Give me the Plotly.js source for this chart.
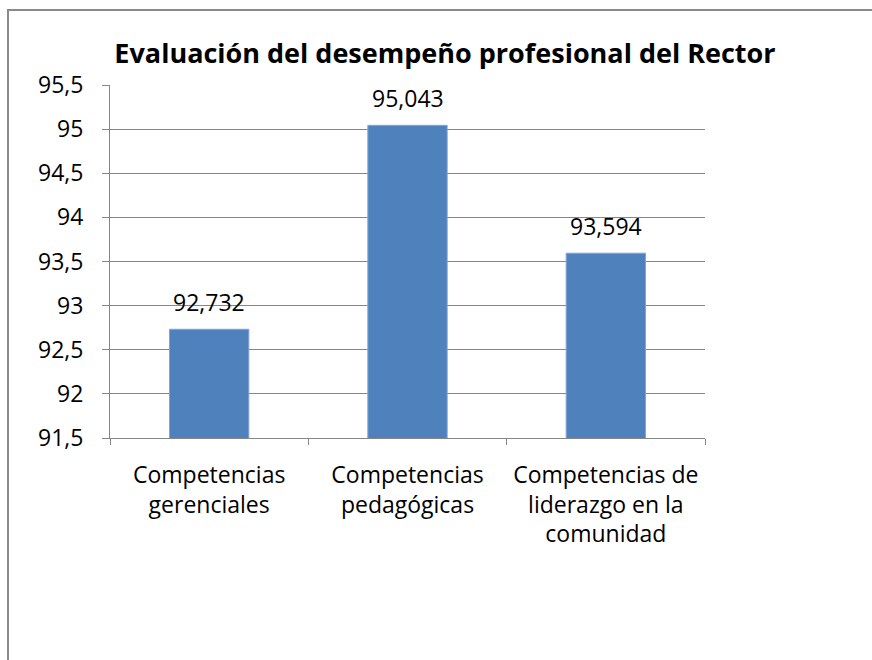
<!DOCTYPE html>
<html>
<head>
<meta charset="utf-8">
<script src="https://cdn.plot.ly/plotly-3.0.1.min.js"></script>
<style>
  html, body { margin: 0; padding: 0; background: #fff; }
  #frame { position: absolute; left: 7px; top: 9px; width: 900px; height: 700px; border: 2px solid #8a8a8a; box-sizing: border-box; }
  #chart { position: absolute; left: 0; top: 0; width: 872px; height: 660px; }
</style>
</head>
<body>
<div id="frame"></div>
<div id="chart"></div>
<script>
const categories = [
  "Competencias<br>gerenciales",
  "Competencias<br>pedagógicas",
  "Competencias de<br>liderazgo en la<br>comunidad"
];
const values = [92.732, 95.043, 93.594];
const titleText = "Evaluación del desempeño profesional del Rector";
const yTickVals = [91.5, 92, 92.5, 93, 93.5, 94, 94.5, 95, 95.5];

const FONT = "Open Sans, sans-serif";
const FS = 23;

const trace = {
  type: "bar",
  x: categories,
  y: values,
  marker: { color: "#4F81BD", line: { color: "#7fa6d6", width: 1 } },
  hoverinfo: "none"
};

const labelAnnotations = categories.map((c, i) => ({
  x: c, y: values[i], xref: "x", yref: "y",
  text: values[i].toFixed(3).replace(".", ","),
  showarrow: false, xanchor: "center", yanchor: "bottom", yshift: 9,
  font: { family: FONT, size: FS, color: "#000" }
}));

const layout = {
  width: 872,
  height: 660,
  paper_bgcolor: "rgba(0,0,0,0)",
  plot_bgcolor: "rgba(0,0,0,0)",
  separators: ",.",
  margin: { l: 110, r: 167, t: 85, b: 222 },
  showlegend: false,
  bargap: 0.6,
  annotations: labelAnnotations,
  title: {
    text: "<b>" + titleText + "</b>",
    font: { family: FONT, size: 27, color: "#000" },
    x: 0.5103, xanchor: "center",
    y: 1 - 54 / 660, yanchor: "middle",
    xref: "container", yref: "container"
  },
  xaxis: {
    type: "category",
    showline: true, linecolor: "#868686", linewidth: 1,
    ticks: "outside", tickson: "boundaries", ticklen: 6, tickcolor: "#868686",
    tickfont: { family: FONT, size: FS, color: "#000" },
    ticklabelstandoff: 16,
    showgrid: false, zeroline: false,
    automargin: false
  },
  yaxis: {
    range: [91.5, 95.5],
    tickvals: yTickVals,
    ticktext: yTickVals.map(v => String(v).replace(".", ",")),
    showline: true, linecolor: "#868686", linewidth: 1,
    ticks: "outside", ticklen: 7, tickcolor: "#868686",
    tickfont: { family: FONT, size: FS, color: "#000" },
    ticklabelstandoff: 14,
    showgrid: true, gridcolor: "#868686", gridwidth: 1,
    zeroline: false,
    automargin: false
  }
};

Plotly.newPlot("chart", [trace], layout, { staticPlot: true, displayModeBar: false });
</script>
</body>
</html>
